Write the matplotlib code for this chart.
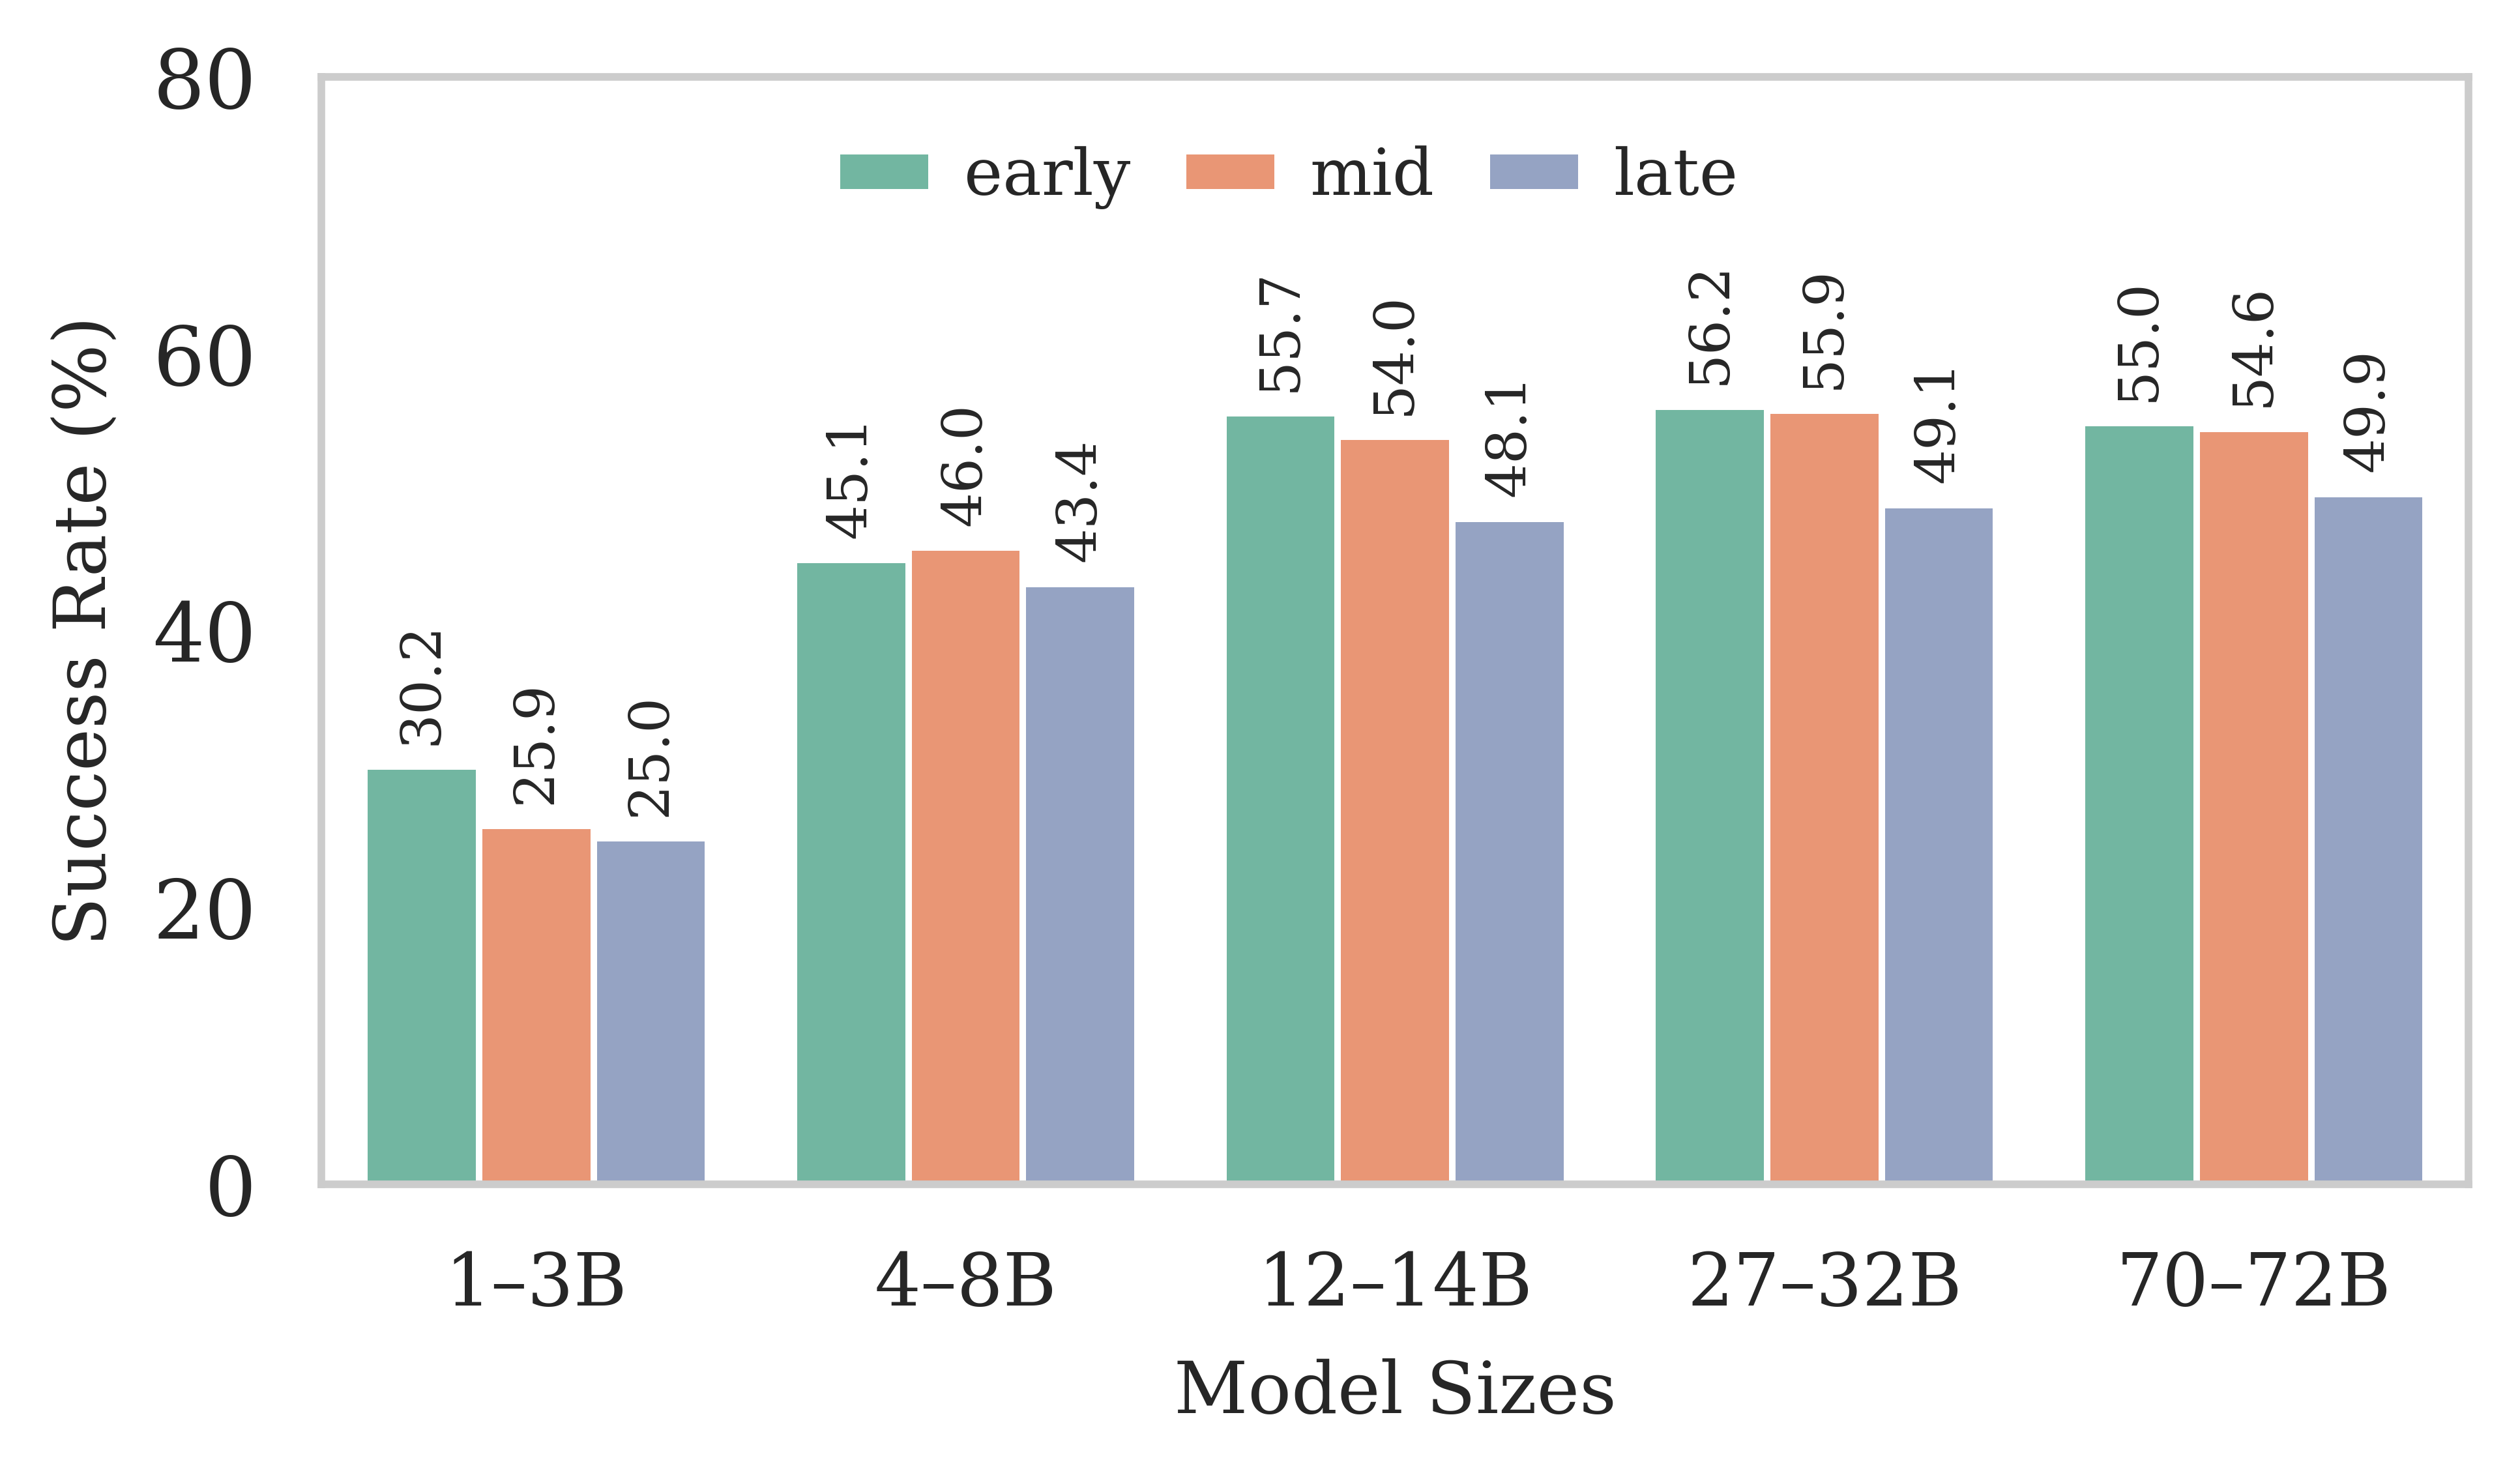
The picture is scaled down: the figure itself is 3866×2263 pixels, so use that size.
import matplotlib
matplotlib.use("Agg")
import matplotlib.pyplot as plt
import numpy as np
import seaborn as sns

# data
sizes = ["1–3B", "4–8B", "12–14B", "27–32B", "70–72B"]
stages = ["early", "mid", "late"]
early = [30.2, 45.1, 55.7, 56.2, 55.0]
mid = [25.9, 46.0, 54.0, 55.9, 54.6]
late = [25.0, 43.4, 48.1, 49.1, 49.9]

sns.set_theme(style="white")
plt.rcParams["font.family"] = ["DejaVu Serif"]

colors = sns.color_palette("Set2", 3, desat=0.75)

fig = plt.figure(figsize=(3866 / 600, 2263 / 600), dpi=600)
ax = fig.add_axes([0.1276, 0.197, 0.852, 0.7507])

x = np.arange(len(sizes))
w = 0.8 / 3
for i, (name, vals) in enumerate(zip(stages, [early, mid, late])):
    bars = ax.bar(x + (i - 1) * w, vals, w, color=colors[i], label=name,
                  edgecolor="white", linewidth=1.2)
    ax.bar_label(bars, fmt="%.1f", rotation=90, padding=4, fontsize=10.2,
                 color="#262626")

ax.set_xlim(-0.5, len(sizes) - 0.5)
ax.set_ylim(0, 80)
ax.set_yticks([0, 20, 40, 60, 80])
ax.set_xticks(x)
ax.set_xticklabels(sizes)
ax.tick_params(axis="y", labelsize=15, pad=12, length=0)
ax.tick_params(axis="x", labelsize=13.4, pad=12, length=0)
ax.set_xlabel("Model Sizes", fontsize=13.3, labelpad=7)
ax.set_ylabel("Success Rate (%)", fontsize=13.2, labelpad=6)

for s in ax.spines.values():
    s.set_color("#cccccc")
    s.set_linewidth(1.4)

ax.legend(loc="upper center", bbox_to_anchor=(0.45, 0.985), ncol=3,
          frameon=False, fontsize=12, handlelength=1.45, handleheight=0.6,
          handletextpad=0.5, columnspacing=0.8, borderaxespad=0.4)

fig.savefig("out.png", dpi=600)
